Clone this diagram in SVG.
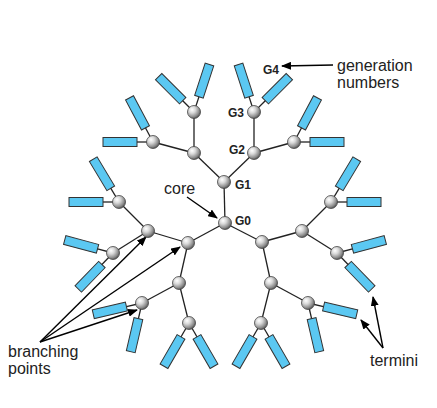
<svg xmlns="http://www.w3.org/2000/svg" width="437" height="408" viewBox="0 0 437 408">
<style>
.bond{stroke:#222;stroke-width:1.3;fill:none}
.ptr{stroke:#000;stroke-width:1.4;fill:none;marker-end:url(#ah)}
.term rect{fill:#5BC8F2;stroke:#333;stroke-width:1}
.term line{stroke:#222;stroke-width:1.3}
.node circle{fill:url(#sph);stroke:#444;stroke-width:0.8}
.gl{font-family:"Liberation Sans",Arial,sans-serif;font-weight:bold;font-size:12px;fill:#222}
.lab{font-family:"Liberation Sans",Arial,sans-serif;font-size:16px;fill:#222}
</style>
<defs>
<radialGradient id="sph" cx="0.35" cy="0.32" r="0.75">
<stop offset="0" stop-color="#ffffff"/>
<stop offset="0.35" stop-color="#d8d8d8"/>
<stop offset="0.75" stop-color="#8a8a8a"/>
<stop offset="1" stop-color="#444"/>
</radialGradient>
<marker id="ah" markerWidth="10" markerHeight="8" refX="9" refY="4" orient="auto" markerUnits="userSpaceOnUse">
<path d="M0,0 L10,4 L0,8 z" fill="#000"/>
</marker>
<g id="tm" class="term"><line x1="0" y1="0" x2="17" y2="0"/><rect x="16" y="-4.5" width="34" height="9"/></g>
</defs>

<g id="connectors">
<!-- core / G1 -->
<line class="bond" x1="225" y1="223" x2="224" y2="182"/>
<line class="bond" x1="225" y1="223" x2="188" y2="243"/>
<line class="bond" x1="225" y1="223" x2="262" y2="242"/>
<!-- top -->
<line class="bond" x1="224" y1="182" x2="194" y2="153"/>
<line class="bond" x1="224" y1="182" x2="254" y2="153"/>
<line class="bond" x1="194" y1="153" x2="194" y2="112"/>
<line class="bond" x1="194" y1="153" x2="153" y2="142"/>
<line class="bond" x1="254" y1="153" x2="254" y2="112"/>
<line class="bond" x1="254" y1="153" x2="294" y2="142"/>
<!-- lower left -->
<line class="bond" x1="188" y1="243" x2="148" y2="231"/>
<line class="bond" x1="188" y1="243" x2="179" y2="283"/>
<line class="bond" x1="148" y1="231" x2="119" y2="202"/>
<line class="bond" x1="148" y1="231" x2="113" y2="253"/>
<line class="bond" x1="179" y1="283" x2="142" y2="303"/>
<line class="bond" x1="179" y1="283" x2="189" y2="323"/>
<!-- lower right -->
<line class="bond" x1="262" y1="242" x2="302" y2="231"/>
<line class="bond" x1="262" y1="242" x2="271" y2="283"/>
<line class="bond" x1="302" y1="231" x2="331" y2="202"/>
<line class="bond" x1="302" y1="231" x2="337" y2="253"/>
<line class="bond" x1="271" y1="283" x2="308" y2="303"/>
<line class="bond" x1="271" y1="283" x2="261" y2="323"/>
<!-- annotation arrows -->
<line class="ptr" x1="333" y1="65" x2="282" y2="66"/>
<line class="ptr" x1="187" y1="197" x2="217" y2="218"/>
<line class="ptr" x1="40" y1="342" x2="146" y2="237"/>
<line class="ptr" x1="40" y1="342" x2="180" y2="247"/>
<line class="ptr" x1="40" y1="342" x2="137" y2="310"/>
<line class="ptr" x1="383" y1="348" x2="373" y2="297"/>
<line class="ptr" x1="383" y1="348" x2="361" y2="320"/>
</g>

<g id="termini">
<use href="#tm" transform="translate(194,112) rotate(-135)"/>
<use href="#tm" transform="translate(194,112) rotate(-72)"/>
<use href="#tm" transform="translate(153,142) rotate(-118)"/>
<use href="#tm" transform="translate(153,142) rotate(180)"/>
<use href="#tm" transform="translate(254,112) rotate(-108)"/>
<use href="#tm" transform="translate(254,112) rotate(-45)"/>
<use href="#tm" transform="translate(294,142) rotate(-62)"/>
<use href="#tm" transform="translate(294,142) rotate(0)"/>
<use href="#tm" transform="translate(119,202) rotate(-121)"/>
<use href="#tm" transform="translate(119,202) rotate(180)"/>
<use href="#tm" transform="translate(113,253) rotate(-165)"/>
<use href="#tm" transform="translate(113,253) rotate(134)"/>
<use href="#tm" transform="translate(142,303) rotate(167)"/>
<use href="#tm" transform="translate(142,303) rotate(103)"/>
<use href="#tm" transform="translate(189,323) rotate(120)"/>
<use href="#tm" transform="translate(189,323) rotate(60)"/>
<use href="#tm" transform="translate(331,202) rotate(-59)"/>
<use href="#tm" transform="translate(331,202) rotate(0)"/>
<use href="#tm" transform="translate(337,253) rotate(-15)"/>
<use href="#tm" transform="translate(337,253) rotate(46)"/>
<use href="#tm" transform="translate(308,303) rotate(13)"/>
<use href="#tm" transform="translate(308,303) rotate(77)"/>
<use href="#tm" transform="translate(261,323) rotate(120)"/>
<use href="#tm" transform="translate(261,323) rotate(60)"/>
</g>

<g id="g0" class="node"><circle cx="225" cy="223" r="6.5"/></g>
<g id="g1-top" class="node"><circle cx="224" cy="182" r="6.5"/></g>
<g id="g1-left" class="node"><circle cx="188" cy="243" r="6.5"/></g>
<g id="g1-right" class="node"><circle cx="262" cy="242" r="6.5"/></g>
<g id="g2-a" class="node"><circle cx="194" cy="153" r="6.5"/></g>
<g id="g2-b" class="node"><circle cx="254" cy="153" r="6.5"/></g>
<g id="g2-c" class="node"><circle cx="148" cy="231" r="6.5"/></g>
<g id="g2-d" class="node"><circle cx="179" cy="283" r="6.5"/></g>
<g id="g2-e" class="node"><circle cx="302" cy="231" r="6.5"/></g>
<g id="g2-f" class="node"><circle cx="271" cy="283" r="6.5"/></g>
<g id="g3-a" class="node"><circle cx="194" cy="112" r="6.5"/></g>
<g id="g3-b" class="node"><circle cx="153" cy="142" r="6.5"/></g>
<g id="g3-c" class="node"><circle cx="254" cy="112" r="6.5"/></g>
<g id="g3-d" class="node"><circle cx="294" cy="142" r="6.5"/></g>
<g id="g3-e" class="node"><circle cx="119" cy="202" r="6.5"/></g>
<g id="g3-f" class="node"><circle cx="113" cy="253" r="6.5"/></g>
<g id="g3-g" class="node"><circle cx="142" cy="303" r="6.5"/></g>
<g id="g3-h" class="node"><circle cx="189" cy="323" r="6.5"/></g>
<g id="g3-i" class="node"><circle cx="331" cy="202" r="6.5"/></g>
<g id="g3-j" class="node"><circle cx="337" cy="253" r="6.5"/></g>
<g id="g3-k" class="node"><circle cx="308" cy="303" r="6.5"/></g>
<g id="g3-l" class="node"><circle cx="261" cy="323" r="6.5"/></g>

<g id="labels">
<text class="gl" x="235" y="225">G0</text>
<text class="gl" x="235" y="189">G1</text>
<text class="gl" x="229" y="154">G2</text>
<text class="gl" x="228" y="117">G3</text>
<text class="gl" x="263" y="74">G4</text>
<text class="lab" x="337" y="71">generation</text>
<text class="lab" x="337" y="88">numbers</text>
<text class="lab" x="164" y="194">core</text>
<text class="lab" x="8" y="357">branching</text>
<text class="lab" x="8" y="374">points</text>
<text class="lab" x="370" y="366">termini</text>
</g>
</svg>
